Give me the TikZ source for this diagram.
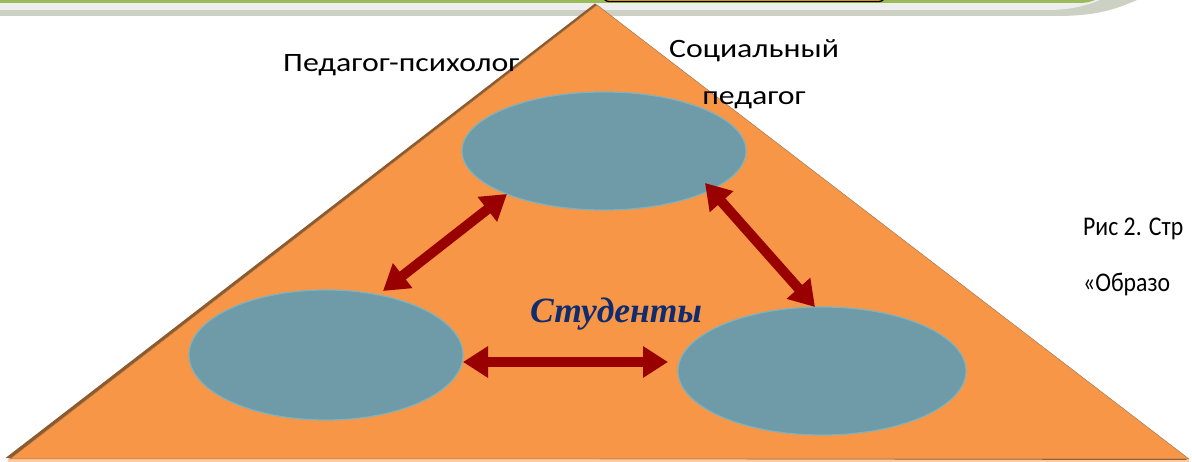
\documentclass[tikz,border=0pt]{standalone}
\usepackage{fontspec}
\setmainfont{Carlito}
\newfontfamily\studfont{Liberation Serif}
\usetikzlibrary{shapes.geometric,arrows.meta,calc}
\definecolor{triorange}{HTML}{F79646}
\definecolor{trishadow}{HTML}{8E5A2B}
\definecolor{tripeach}{HTML}{FBCBA3}
\definecolor{ellfill}{HTML}{6F9AA7}
\definecolor{elledge}{HTML}{7DB2C0}
\definecolor{arrred}{HTML}{990000}
\definecolor{navy}{HTML}{0F2C6E}
\definecolor{barg}{HTML}{9BBB59}
\definecolor{bargray}{HTML}{EEEEEE}
\definecolor{bardots}{HTML}{CDD1C4}
\definecolor{boxfill}{HTML}{F5A81C}
\tikzset{
  role/.style={ellipse, fill=ellfill, draw=elledge, line width=1.2pt, inner sep=0pt, outer sep=0pt},
  lbl/.style={font=\fontsize{26.5}{32}\selectfont, xscale=1.2, inner sep=0pt, anchor=base west, text=black},
  caplbl/.style={font=\fontsize{27}{32}\selectfont, xscale=0.88, inner sep=0pt, anchor=base west, text=black},
  link/.style={draw=arrred, line width=10pt, {Triangle[length=25pt,width=30pt]}-{Triangle[length=25pt,width=30pt]}}
}
\begin{document}
\begin{tikzpicture}[x=1pt,y=1pt]
\useasboundingbox (0,0) rectangle (1192,462);
% top band
\fill[bardots] (0,462) -- (1137,462) .. controls (1110,450) and (1090,446) .. (1055,446) -- (0,446) -- cycle;
\fill[bargray] (0,462) -- (1100,462) .. controls (1080,454) and (1065,452) .. (1045,452) -- (0,452) -- cycle;
\fill[barg] (0,459) -- (1080,459) .. controls (1088,459.5) .. (1095,462) -- (0,462) -- cycle;
\draw[fill=boxfill, line width=1.3pt, rounded corners=6pt] (603,460.5) rectangle (885,490);
% triangle
\fill[tripeach] (8,0) rectangle (1189,3.5);
\fill[trishadow] (5.5,4) -- (595,458.5) -- (1187,2) -- cycle;
\fill[triorange, draw=trishadow!80, line width=0.5pt] (10,3) -- (597,457) -- (1189,3) -- cycle;
% role ellipses
\node[role, minimum width=284pt, minimum height=118pt] (top) at (604,311) {};
\node[role, minimum width=274pt, minimum height=130pt] (left) at (326,107) {};
\node[role, minimum width=288pt, minimum height=128pt] (right) at (822,91) {};
% connectors
\draw[link] ($(top.center)+(-97,-43)$) -- ($(left.center)+(57,64)$);
\draw[link] ($(top.center)+(101,-32)$) -- ($(right.center)+(-7,64)$);
\draw[link] ($(left.center)+(137,-7)$) -- ($(right.center)+(-154,9)$);
% labels
\node[lbl] (psy) at (283,390) {Педагог-психолог};
\node[lbl, anchor=base] (soc1) at (754,404) {Социальный};
\node[lbl, anchor=base] (soc2) at (754,357) {педагог};
\node[inner sep=0pt, anchor=base west, text=navy, font=\studfont\bfseries\itshape\fontsize{35.5}{42}\selectfont] (stud) at (530,139) {Студенты};
\node[caplbl] (cap1) at (1083,226) {Рис 2. Стр};
\node[caplbl] (cap2) at (1083,170) {«Образо};
\end{tikzpicture}
\end{document}
